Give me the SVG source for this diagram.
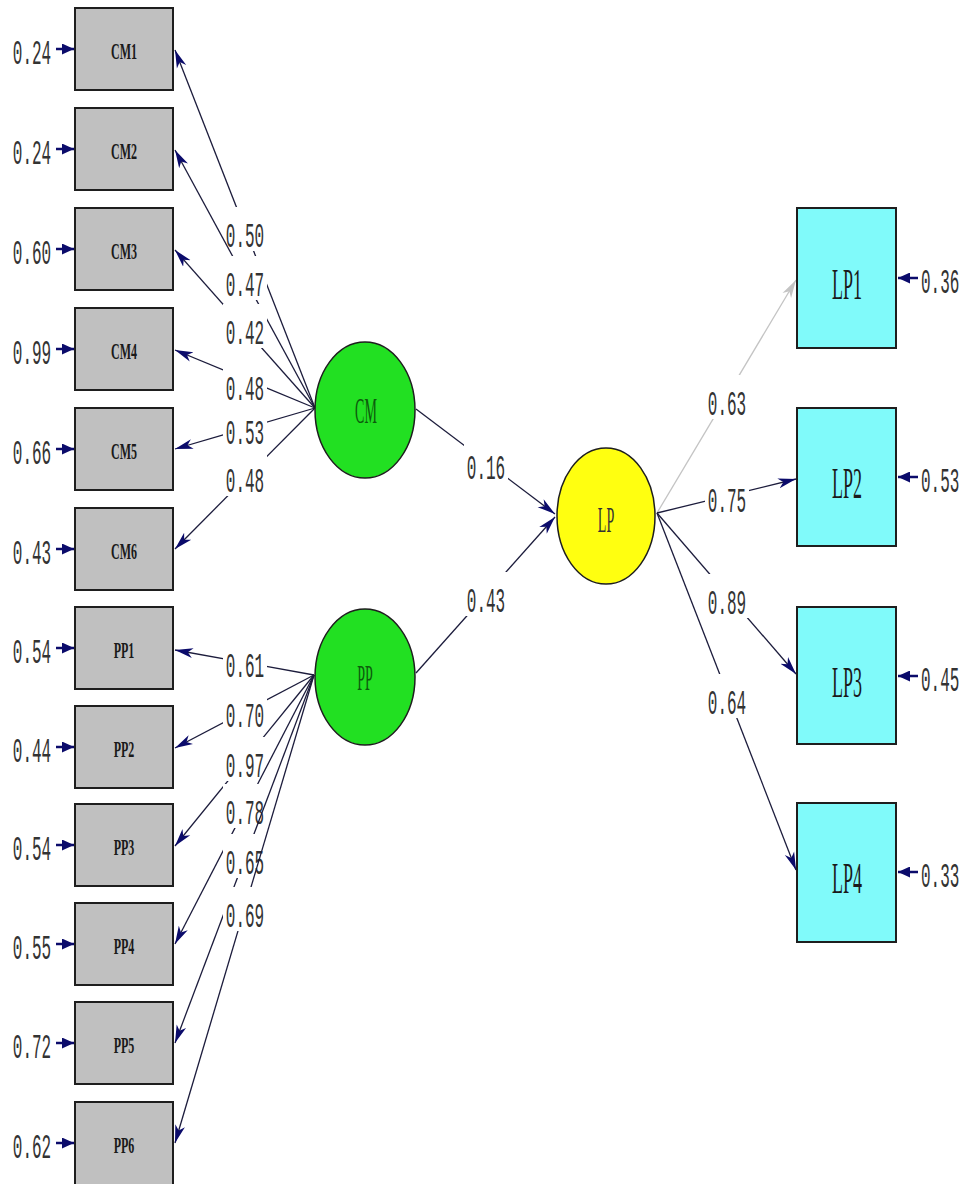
<svg xmlns="http://www.w3.org/2000/svg" width="968" height="1184" viewBox="0 0 968 1184">
<style>
.bg{fill:#fff}
.box{fill:#c0c0c0;stroke:#1e1e1e;stroke-width:2}
.obox{fill:#80fafa;stroke:#1e1e1e;stroke-width:2}
.lat{fill:#22e022;stroke:#1e1e1e;stroke-width:1.5}
.lp{fill:#ffff10;stroke:#1e1e1e;stroke-width:1.5}
.ln{stroke:#1c1c3c;stroke-width:1.3;fill:none;marker-end:url(#ah)}
.lng{stroke:#c4c4c4;stroke-width:1.3;fill:none;marker-end:url(#ahg)}
.err{stroke:#0b0b6b;stroke-width:2.5;fill:none;marker-end:url(#ahs)}
.lb{fill:#fff}
.v{font-family:"Liberation Mono","DejaVu Sans Mono",monospace;font-size:16px;fill:#333;text-anchor:middle}
.vs{font-family:"Liberation Mono","DejaVu Sans Mono",monospace;font-size:16px;fill:#333;text-anchor:start}
.bl{font-family:"Liberation Serif","DejaVu Serif",serif;font-size:12px;font-weight:bold;fill:#1a1a1a;text-anchor:middle}
.ol{font-family:"Liberation Serif","DejaVu Serif",serif;font-size:18px;fill:#1a1a1a;text-anchor:middle}
.ll{font-family:"Liberation Serif","DejaVu Serif",serif;font-size:14px;text-anchor:middle}
</style>
<defs>
<marker id="ah" viewBox="0 0 18 12" refX="18" refY="6" markerWidth="18" markerHeight="12" markerUnits="userSpaceOnUse" orient="auto"><path d="M0,1 L18,6 L0,11 L5,6 Z" fill="#0b0b6b"/></marker>
<marker id="ahg" viewBox="0 0 18 12" refX="18" refY="6" markerWidth="18" markerHeight="12" markerUnits="userSpaceOnUse" orient="auto"><path d="M0,1 L18,6 L0,11 L5,6 Z" fill="#c4c4c4"/></marker>
<marker id="ahs" viewBox="0 0 12 11" refX="12" refY="5.5" markerWidth="12" markerHeight="11" markerUnits="userSpaceOnUse" orient="auto"><path d="M0,0 L12,5.5 L0,11 Z" fill="#0b0b6b"/></marker>
</defs>
<rect class="bg" x="0" y="0" width="968" height="1184"/>

<g id="connectors">
<line class="ln" x1="315" y1="408" x2="175" y2="50"/>
<rect class="lb" x="223" y="207" width="44" height="44"/><text class="v" transform="translate(245,246.5) scale(1,2.2)">0.50</text>
<line class="ln" x1="315" y1="408" x2="175" y2="150"/>
<rect class="lb" x="223" y="256" width="44" height="44"/><text class="v" transform="translate(245,295.5) scale(1,2.2)">0.47</text>
<line class="ln" x1="315" y1="408" x2="175" y2="250"/>
<rect class="lb" x="223" y="304" width="44" height="44"/><text class="v" transform="translate(245,343.5) scale(1,2.2)">0.42</text>
<line class="ln" x1="315" y1="408" x2="175" y2="350"/>
<rect class="lb" x="223" y="360" width="44" height="44"/><text class="v" transform="translate(245,399.5) scale(1,2.2)">0.48</text>
<line class="ln" x1="315" y1="408" x2="175" y2="449"/>
<rect class="lb" x="223" y="404" width="44" height="44"/><text class="v" transform="translate(245,443.5) scale(1,2.2)">0.53</text>
<line class="ln" x1="315" y1="408" x2="175" y2="549"/>
<rect class="lb" x="223" y="452" width="44" height="44"/><text class="v" transform="translate(245,491.5) scale(1,2.2)">0.48</text>
<line class="ln" x1="314" y1="675" x2="175" y2="650"/>
<rect class="lb" x="223" y="637" width="44" height="44"/><text class="v" transform="translate(245,676.5) scale(1,2.2)">0.61</text>
<line class="ln" x1="314" y1="675" x2="175" y2="748"/>
<rect class="lb" x="223" y="687" width="44" height="44"/><text class="v" transform="translate(245,726.5) scale(1,2.2)">0.70</text>
<line class="ln" x1="314" y1="675" x2="175" y2="846"/>
<rect class="lb" x="223" y="737" width="44" height="44"/><text class="v" transform="translate(245,776.5) scale(1,2.2)">0.97</text>
<line class="ln" x1="314" y1="675" x2="175" y2="944"/>
<rect class="lb" x="223" y="784" width="44" height="44"/><text class="v" transform="translate(245,823.5) scale(1,2.2)">0.78</text>
<line class="ln" x1="314" y1="675" x2="175" y2="1043"/>
<rect class="lb" x="223" y="834" width="44" height="44"/><text class="v" transform="translate(245,873.5) scale(1,2.2)">0.65</text>
<line class="ln" x1="314" y1="675" x2="175" y2="1143"/>
<rect class="lb" x="223" y="887" width="44" height="44"/><text class="v" transform="translate(245,926.5) scale(1,2.2)">0.69</text>
<line class="ln" x1="416" y1="409" x2="555" y2="514"/>
<rect class="lb" x="464" y="439" width="44" height="44"/><text class="v" transform="translate(486,478.5) scale(1,2.2)">0.16</text>
<line class="ln" x1="416" y1="673" x2="555" y2="517"/>
<rect class="lb" x="464" y="572" width="44" height="44"/><text class="v" transform="translate(486,611.5) scale(1,2.2)">0.43</text>
<line class="lng" x1="657" y1="513" x2="796" y2="280"/>
<rect class="lb" x="705" y="375" width="44" height="44"/><text class="v" transform="translate(727,414.5) scale(1,2.2)">0.63</text>
<line class="ln" x1="657" y1="513" x2="796" y2="479"/>
<rect class="lb" x="705" y="472" width="44" height="44"/><text class="v" transform="translate(727,511.5) scale(1,2.2)">0.75</text>
<line class="ln" x1="657" y1="513" x2="796" y2="674"/>
<rect class="lb" x="705" y="574" width="44" height="44"/><text class="v" transform="translate(727,613.5) scale(1,2.2)">0.89</text>
<line class="ln" x1="657" y1="513" x2="796" y2="870"/>
<rect class="lb" x="705" y="674" width="44" height="44"/><text class="v" transform="translate(727,713.5) scale(1,2.2)">0.64</text>
<line class="err" x1="56" y1="49" x2="74" y2="49"/>
<line class="err" x1="56" y1="149" x2="74" y2="149"/>
<line class="err" x1="56" y1="249" x2="74" y2="249"/>
<line class="err" x1="56" y1="349" x2="74" y2="349"/>
<line class="err" x1="56" y1="449" x2="74" y2="449"/>
<line class="err" x1="56" y1="549" x2="74" y2="549"/>
<line class="err" x1="56" y1="648" x2="74" y2="648"/>
<line class="err" x1="56" y1="747" x2="74" y2="747"/>
<line class="err" x1="56" y1="845" x2="74" y2="845"/>
<line class="err" x1="56" y1="944" x2="74" y2="944"/>
<line class="err" x1="56" y1="1043" x2="74" y2="1043"/>
<line class="err" x1="56" y1="1143" x2="74" y2="1143"/>
<line class="err" x1="918" y1="278" x2="898" y2="278"/>
<line class="err" x1="918" y1="477" x2="898" y2="477"/>
<line class="err" x1="918" y1="676" x2="898" y2="676"/>
<line class="err" x1="918" y1="872" x2="898" y2="872"/>
</g>

<g id="err-labels">
<text class="v" transform="translate(32,63.5) scale(1,2.2)">0.24</text>
<text class="v" transform="translate(32,163.5) scale(1,2.2)">0.24</text>
<text class="v" transform="translate(32,263.5) scale(1,2.2)">0.60</text>
<text class="v" transform="translate(32,363.5) scale(1,2.2)">0.99</text>
<text class="v" transform="translate(32,463.5) scale(1,2.2)">0.66</text>
<text class="v" transform="translate(32,563.5) scale(1,2.2)">0.43</text>
<text class="v" transform="translate(32,662.5) scale(1,2.2)">0.54</text>
<text class="v" transform="translate(32,761.5) scale(1,2.2)">0.44</text>
<text class="v" transform="translate(32,859.5) scale(1,2.2)">0.54</text>
<text class="v" transform="translate(32,958.5) scale(1,2.2)">0.55</text>
<text class="v" transform="translate(32,1057.5) scale(1,2.2)">0.72</text>
<text class="v" transform="translate(32,1157.5) scale(1,2.2)">0.62</text>
<text class="vs" transform="translate(921,292.5) scale(1,2.2)">0.36</text>
<text class="vs" transform="translate(921,491.5) scale(1,2.2)">0.53</text>
<text class="vs" transform="translate(921,690.5) scale(1,2.2)">0.45</text>
<text class="vs" transform="translate(921,886.5) scale(1,2.2)">0.33</text>
</g>

<g id="CM1"><rect class="box" x="75" y="8" width="98" height="82"/><text class="bl" transform="translate(124,59) scale(1,2)">CM1</text></g>
<g id="CM2"><rect class="box" x="75" y="108" width="98" height="82"/><text class="bl" transform="translate(124,159) scale(1,2)">CM2</text></g>
<g id="CM3"><rect class="box" x="75" y="208" width="98" height="82"/><text class="bl" transform="translate(124,259) scale(1,2)">CM3</text></g>
<g id="CM4"><rect class="box" x="75" y="308" width="98" height="82"/><text class="bl" transform="translate(124,359) scale(1,2)">CM4</text></g>
<g id="CM5"><rect class="box" x="75" y="408" width="98" height="82"/><text class="bl" transform="translate(124,459) scale(1,2)">CM5</text></g>
<g id="CM6"><rect class="box" x="75" y="508" width="98" height="82"/><text class="bl" transform="translate(124,559) scale(1,2)">CM6</text></g>
<g id="PP1"><rect class="box" x="75" y="607" width="98" height="82"/><text class="bl" transform="translate(124,658) scale(1,2)">PP1</text></g>
<g id="PP2"><rect class="box" x="75" y="706" width="98" height="82"/><text class="bl" transform="translate(124,757) scale(1,2)">PP2</text></g>
<g id="PP3"><rect class="box" x="75" y="804" width="98" height="82"/><text class="bl" transform="translate(124,855) scale(1,2)">PP3</text></g>
<g id="PP4"><rect class="box" x="75" y="903" width="98" height="82"/><text class="bl" transform="translate(124,954) scale(1,2)">PP4</text></g>
<g id="PP5"><rect class="box" x="75" y="1002" width="98" height="82"/><text class="bl" transform="translate(124,1053) scale(1,2)">PP5</text></g>
<g id="PP6"><rect class="box" x="75" y="1102" width="98" height="86"/><text class="bl" transform="translate(124,1153) scale(1,2)">PP6</text></g>

<g id="CM"><ellipse class="lat" cx="365" cy="410" rx="50" ry="68"/><text class="ll" fill="#0d5a0d" transform="translate(366,423) scale(1,2.5)">CM</text></g>
<g id="PP"><ellipse class="lat" cx="365" cy="677" rx="50" ry="68"/><text class="ll" fill="#0d5a0d" transform="translate(365,690) scale(1,2.5)">PP</text></g>
<g id="LP"><ellipse class="lp" cx="606" cy="516" rx="49" ry="68"/><text class="ll" fill="#333" transform="translate(606,532) scale(1,2.5)">LP</text></g>

<g id="LP1"><rect class="obox" x="797" y="208" width="99" height="140"/><text class="ol" transform="translate(847,299) scale(1,2.5)">LP1</text></g>
<g id="LP2"><rect class="obox" x="797" y="408" width="99" height="138"/><text class="ol" transform="translate(847,498) scale(1,2.5)">LP2</text></g>
<g id="LP3"><rect class="obox" x="797" y="607" width="99" height="137"/><text class="ol" transform="translate(847,697) scale(1,2.5)">LP3</text></g>
<g id="LP4"><rect class="obox" x="797" y="803" width="99" height="139"/><text class="ol" transform="translate(847,893) scale(1,2.5)">LP4</text></g>
</svg>
